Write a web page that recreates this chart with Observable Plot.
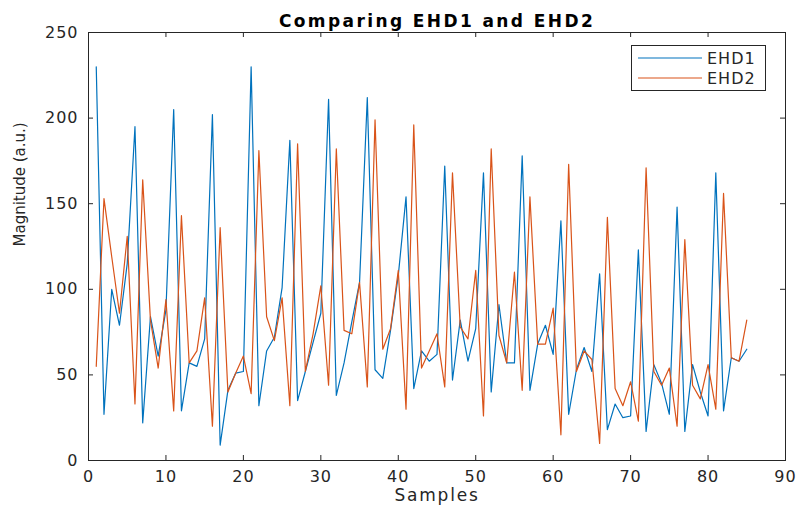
<!DOCTYPE html>
<html><head><meta charset="utf-8">
<script src="https://cdn.jsdelivr.net/npm/d3@7"></script>
<script src="https://cdn.jsdelivr.net/npm/@observablehq/plot@0.6"></script>
<style>
body{margin:0;background:#fff;}
#chart{position:relative;width:797px;height:514px;}
#chart svg text{letter-spacing:1px;}
#legend{position:absolute;}
</style>
</head><body><div id="chart"></div>
<script>
const samples = d3.range(1, 86);
const ehd1 = [230,27,100,79,115,195,22,84,61,88,205,29,57,55,71,202,9,41,51,52,
  230,32,64,72,101,187,35,52,69,86,211,38,57,81,104,212,53,48,76,108,
  154,42,64,58,62,172,47,82,58,77,168,40,91,57,57,178,41,68,79,62,
  140,27,53,66,52,109,18,33,25,26,123,17,56,45,27,148,17,56,40,26,
  168,29,60,58,65];
const ehd2 = [55,153,119,86,131,33,164,82,54,94,29,143,57,64,95,20,136,40,51,61,
  39,181,84,70,95,32,185,52,74,102,44,182,76,74,104,43,199,65,77,111,
  30,196,54,64,74,43,168,78,71,111,26,182,73,57,110,41,154,68,68,89,
  15,173,52,64,59,10,142,42,32,46,23,171,52,44,54,20,129,44,36,56,
  30,156,60,58,82];
const xTicks = [0,10,20,30,40,50,60,70,80,90];
const yTicks = [0,50,100,150,200,250];
const seriesNames = ["EHD1","EHD2"];
const seriesColors = ["#0072BD","#D95319"];
const titleText = "Comparing EHD1 and EHD2";
const xLabel = "Samples";
const yLabel = "Magnitude (a.u.)";

const rows = [
  ...ehd1.map((v,i)=>({sample: samples[i], value: v, series: seriesNames[0]})),
  ...ehd2.map((v,i)=>({sample: samples[i], value: v, series: seriesNames[1]}))
];

const W=797, H=514, mL=88, mR=12, mT=32, mB=54;
const frameH = H-mT-mB, frameW = W-mL-mR;
const ink = "#262626";

const plot = Plot.plot({
  width: W, height: H,
  marginLeft: mL, marginRight: mR, marginTop: mT, marginBottom: mB,
  style: {fontFamily: "DejaVu Sans", fontSize: "16px", color: ink, background: "#fff", overflow: "visible"},
  x: {domain: [0, 90]},
  y: {domain: [0, 250]},
  color: {type: "ordinal", domain: seriesNames.slice(), range: seriesColors.slice()},
  marks: [
    Plot.line(rows, {x: "sample", y: "value", z: "series", stroke: "series", strokeWidth: 1.2}),
    Plot.frame({stroke: ink, strokeWidth: 1}),
    Plot.ruleX(xTicks, {x: d=>d, insetTop: frameH-5, stroke: ink}),
    Plot.ruleX(xTicks, {x: d=>d, insetBottom: frameH-5, stroke: ink}),
    Plot.ruleY(yTicks, {y: d=>d, insetRight: frameW-5, stroke: ink}),
    Plot.ruleY(yTicks, {y: d=>d, insetLeft: frameW-5, stroke: ink}),
    Plot.axisX(xTicks, {tickSize: 0, tickPadding: 10, label: null}),
    Plot.axisY(yTicks, {tickSize: 0, tickPadding: 10, label: null}),
    Plot.text([xLabel], {frameAnchor: "bottom", dy: 40, text: d=>d, fontSize: 17, fill: ink}),
    Plot.text([yLabel], {frameAnchor: "left", dx: -68, rotate: -90, text: d=>d, fontSize: 15, fill: ink}),
    Plot.text([titleText], {frameAnchor: "top", dy: -18, text: d=>d, fontWeight: "bold", fontSize: 17, fill: "#000"})
  ]
});
const chart = document.getElementById("chart");
chart.appendChild(plot);

const svg = d3.select(plot);
svg.selectAll("text").filter(function(){ return this.textContent === titleText; }).style("letter-spacing", "2.4px");
svg.selectAll("text").filter(function(){ return this.textContent === xLabel; }).style("letter-spacing", "1.8px");
svg.selectAll("text").filter(function(){ return this.textContent === yLabel; }).style("letter-spacing", "0px");

// legend overlay (inside the frame, top right)
const colorScale = plot.scale("color");
const xr = plot.scale("x").range, yr = plot.scale("y").range;
const lw = 135, lh = 46;
const legLeft = Math.max(...xr) - 19 - lw, legTop = Math.min(...yr) + 13;
const leg = d3.select(chart).append("svg")
  .attr("id", "legend")
  .attr("width", lw + 2).attr("height", lh + 2)
  .style("left", (legLeft - 1) + "px").style("top", (legTop - 1) + "px");
leg.append("rect").attr("x", 1.5).attr("y", 1.5).attr("width", lw - 1).attr("height", lh - 1)
  .attr("fill", "#fff").attr("stroke", ink).attr("stroke-width", 1);
seriesNames.forEach((name, i) => {
  const yy = 14 + i*20;
  const c = colorScale.apply(name);
  leg.append("path").attr("d", `M8,${yy}H72`)
    .attr("fill", "none").attr("stroke", c).attr("stroke-width", 1.2);
  leg.append("text").attr("x", 77).attr("y", yy).attr("dy", "0.36em")
    .attr("text-anchor", "start").style("letter-spacing", "1px")
    .attr("font-family", "DejaVu Sans").attr("font-size", 16).attr("fill", ink).text(name);
});
</script>
</body></html>
